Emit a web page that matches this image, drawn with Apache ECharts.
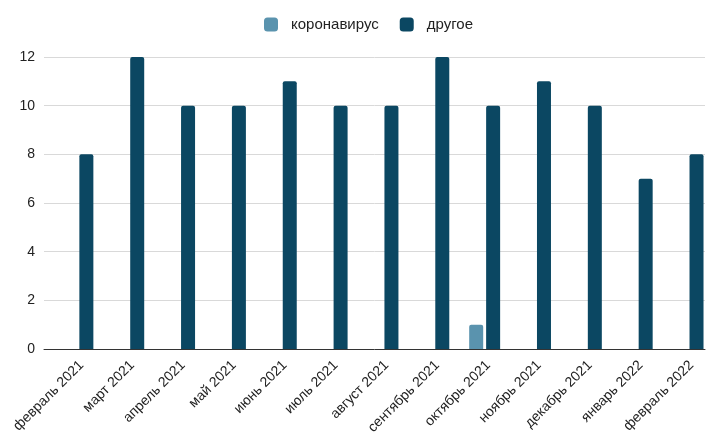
<!DOCTYPE html>
<html>
<head>
<meta charset="utf-8">
<script src="https://cdn.jsdelivr.net/npm/echarts@6/dist/echarts.min.js"></script>
<style>html,body{margin:0;padding:0;background:#fff}#c{width:710px;height:437px}</style>
</head>
<body>
<div id="c"></div>
<script>
var categories = ['февраль 2021','март 2021','апрель 2021','май 2021','июнь 2021','июль 2021','август 2021','сентябрь 2021','октябрь 2021','ноябрь 2021','декабрь 2021','январь 2022','февраль 2022'];
var coronaValues = [null,null,null,null,null,null,null,null,1,null,null,null,null];
var otherValues = [8,12,10,10,11,10,10,12,10,11,10,7,8];
var yTicks = [0,2,4,6,8,10,12];
var seriesNames = ['коронавирус','другое'];

var chart = echarts.init(document.getElementById('c'), null, {renderer:'canvas'});
var font = 'Arial, "Liberation Sans", sans-serif';
chart.setOption({
  animation:false,
  legend:{
    data:seriesNames.map(function(n){return {name:n};}),
    top:12, left:259,
    itemWidth:14, itemHeight:14, itemGap:21,
    icon:'roundRect',
    textStyle:{fontFamily:font,fontSize:15,color:'#222',padding:[0,0,0,8]}
  },
  grid:{left:44,right:5,top:57,bottom:87,containLabel:false},
  xAxis:{
    type:'category', data:categories,
    axisLine:{lineStyle:{color:'#333',width:1}},
    axisTick:{show:false},
    axisLabel:{rotate:45,margin:26,fontFamily:font,fontSize:14,color:'#222',interval:0,
      padding:[0,-17,0,0]}
  },
  yAxis:{
    type:'value', min:yTicks[0], max:yTicks[yTicks.length-1], interval:2,
    axisLine:{show:false}, axisTick:{show:false},
    splitLine:{lineStyle:{color:'#d9d9d9'}},
    axisLabel:{fontFamily:font,fontSize:14,color:'#222',margin:9}
  },
  series:[
    {name:'_', type:'bar', data:categories.map(function(){return null;}), barWidth:14, barGap:'21%'},
    {name:seriesNames[0], type:'bar', data:coronaValues, barWidth:14, barGap:'21%',
      itemStyle:{color:'#5a93ae',borderRadius:[2,2,0,0]}},
    {name:seriesNames[1], type:'bar', data:otherValues, barWidth:14, barGap:'21%',
      itemStyle:{color:'#0b4762',borderRadius:[2,2,0,0]}}
  ]
});
</script>
</body>
</html>
